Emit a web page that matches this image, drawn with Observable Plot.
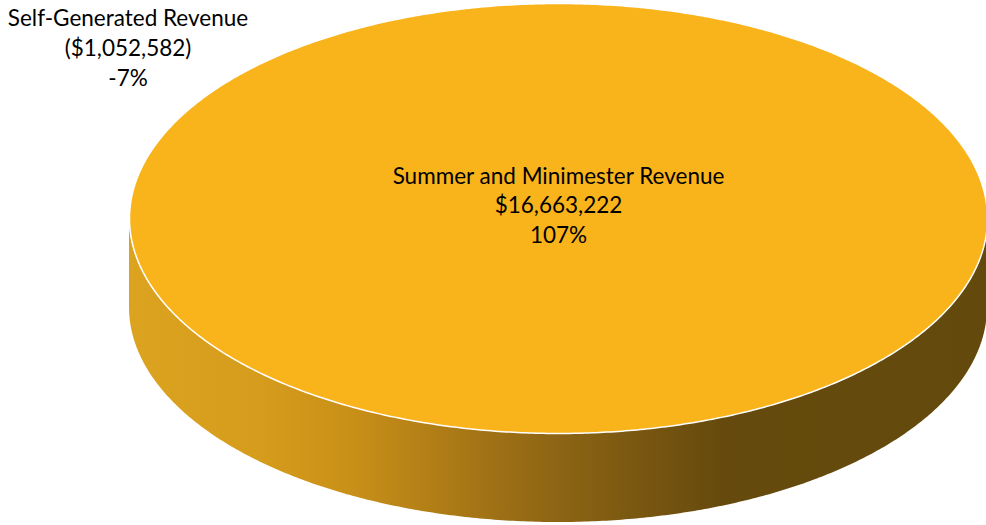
<!DOCTYPE html>
<html>
<head>
<meta charset="utf-8">
<script src="https://cdn.jsdelivr.net/npm/d3@7"></script>
<script src="https://cdn.jsdelivr.net/npm/@observablehq/plot@0.6"></script>
<style>
  html, body { margin: 0; padding: 0; background: #fff; }
  #chart { width: 986px; height: 525px; overflow: hidden; }
</style>
</head>
<body>
<div id="chart"></div>
<script>
// ---- Data ----
const categories = ["Summer and Minimester Revenue", "Self-Generated Revenue"];
const values = [16663222, -1052582];

// ---- Layout / style ----
const topColor = "#F9B31B";
const depth = 0.414;            // side thickness, in radius units
const labelPos = [               // label anchor positions in radius units
  {x: 0, y: -0.068},
  {x: -1.0035, y: -0.80}
];
const fontSize = 22.5;

// ---- Derived ----
const total = d3.sum(values);
const fmtMoney = d3.format("$,");
const labelText = (v, i) => {
  const money = v < 0 ? "(" + fmtMoney(-v) + ")" : fmtMoney(v);
  const pct = Math.round(v / total * 100);
  return categories[i] + "\n" + money + "\n" + (pct < 0 ? "-" + (-pct) : pct) + "%";
};
const labels = values.map((v, i) => ({...labelPos[i], text: labelText(v, i)}));

// Pie on positive values only (negative slices are not drawn)
const arcs = d3.pie().sort(null)(values.map(v => Math.max(v, 0)));

const topPts = [];
const sidePts = [];
arcs.forEach((a, i) => {
  if (a.endAngle - a.startAngle <= 0) return;
  const full = a.endAngle - a.startAngle >= 2 * Math.PI - 1e-9;
  const n = Math.max(2, Math.ceil((a.endAngle - a.startAngle) / (Math.PI / 360)));
  if (!full) topPts.push({slice: i, x: 0, y: 0});
  for (let k = 0; k <= n; k++) {
    const t = a.startAngle + (a.endAngle - a.startAngle) * k / n;
    topPts.push({slice: i, x: Math.sin(t), y: -Math.cos(t)});
  }
  // visible front side: angles between PI/2 and 3PI/2
  const s0 = Math.max(a.startAngle, Math.PI / 2), s1 = Math.min(a.endAngle, 3 * Math.PI / 2);
  if (s1 > s0) {
    const m = Math.max(2, Math.ceil((s1 - s0) / (Math.PI / 360)));
    for (let k = 0; k <= m; k++) {
      const t = s0 + (s1 - s0) * k / m;
      sidePts.push({slice: i, x: Math.sin(t), y1: -Math.cos(t), y2: -Math.cos(t) + depth});
    }
  }
});

const defs = () => {
  const g = d3.create("svg:defs");
  const lg = g.append("linearGradient").attr("id", "sideGrad")
    .attr("x1", 0).attr("x2", 1).attr("y1", 0).attr("y2", 0);
  [[0, "#DBA31F"], [0.14, "#D69D1D"], [0.26, "#C99018"], [0.375, "#AC7A16"],
   [0.49, "#8F6614"], [0.61, "#765510"], [0.69, "#664A0D"], [1, "#634A0C"]]
    .forEach(([o, c]) => lg.append("stop").attr("offset", o).attr("stop-color", c));
  return g.node();
};

const chart = Plot.plot({
  width: 986,
  height: 525,
  margin: 0,
  style: {fontFamily: "Lato, sans-serif", background: "#fff"},
  x: {domain: [-1, 1], range: [129, 987], axis: null},
  y: {domain: [-1, 1], range: [3, 433], axis: null},
  marks: [
    defs,
    Plot.areaY(sidePts, {x: "x", y1: "y1", y2: "y2", z: "slice", fill: "url(#sideGrad)"}),
    Plot.line(topPts, {x: "x", y: "y", z: "slice", fill: topColor, stroke: "#fff", strokeWidth: 1.5}),
    Plot.text(labels, {x: "x", y: "y", text: "text", fontSize, lineHeight: 1.33, fill: "#000", textAnchor: "middle"})
  ]
});
document.getElementById("chart").appendChild(chart);
</script>
</body>
</html>
